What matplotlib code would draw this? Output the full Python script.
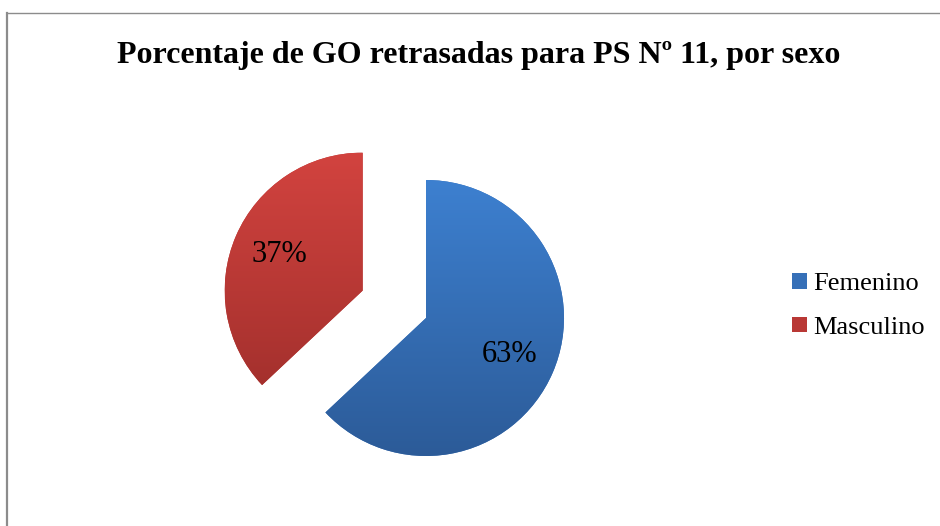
import numpy as np
import matplotlib
matplotlib.use("Agg")
import matplotlib.pyplot as plt
from matplotlib.lines import Line2D
from matplotlib.patches import Patch
from matplotlib.colors import LinearSegmentedColormap

title = "Porcentaje de GO retrasadas para PS Nº 11, por sexo"
categories = ["Femenino", "Masculino"]
values = [63, 37]
explode = [0, 0.5]
top_colors = ["#3D80D0", "#D2433F"]
bottom_colors = ["#2C5B98", "#9C2D2A"]
mid_colors = ["#3670B8", "#B93835"]

W, H = 940, 526
fig = plt.figure(figsize=(W / 100, H / 100), dpi=100)
fig.patch.set_facecolor("white")
serif = ["Liberation Serif", "DejaVu Serif"]

# outer border (left and top visible)
fig.add_artist(Line2D([7 / W, 7 / W], [0, 1 - 13 / H], color="#8c8c8c", lw=1.6))
fig.add_artist(Line2D([7 / W, 1], [1 - 13 / H, 1 - 13 / H], color="#8c8c8c", lw=1.0))

# axes with 138 px per unit, pie centre at (426, 318)
cx, cy, R = 426, 318, 138
x0, x1, ytop, ybot = 150, 700, 80, 510
ax = fig.add_axes([x0 / W, 1 - ybot / H, (x1 - x0) / W, (ybot - ytop) / H])
ax.set_xlim((x0 - cx) / R, (x1 - cx) / R)
ax.set_ylim(-(ybot - cy) / R, (cy - ytop) / R)
ax.set_aspect("auto")
ax.axis("off")

wedges, texts, autotexts = ax.pie(
    values, explode=explode, startangle=90, counterclock=False,
    colors=mid_colors, autopct="%.0f%%", pctdistance=0.66, radius=1,
    wedgeprops=dict(linewidth=0),
    textprops=dict(fontsize=22, family=serif, color="black"))

for w, tc, bc in zip(wedges, top_colors, bottom_colors):
    cmap = LinearSegmentedColormap.from_list("g", [bc, tc])
    cxw, cyw = w.center
    grad = np.linspace(0, 1, 256).reshape(-1, 1)
    im = ax.imshow(grad, cmap=cmap, origin="lower", aspect="auto",
                   extent=[cxw - 1, cxw + 1, cyw - 1, cyw + 1], zorder=w.get_zorder() + 0.1)
    im.set_clip_path(w)
for t in autotexts:
    t.set_zorder(5)

ax.set_xlim((x0 - cx) / R, (x1 - cx) / R)
ax.set_ylim(-(ybot - cy) / R, (cy - ytop) / R)

fig.text(479 / W, 1 - 55 / H, title, ha="center", va="center",
         fontsize=23, fontweight="bold", family=serif)

handles = [Patch(facecolor=c, edgecolor="none") for c in mid_colors]
fig.legend(handles, categories, loc="center left", bbox_to_anchor=(771 / W, 1 - 306 / H),
           frameon=False, prop=dict(family=serif, size=19),
           handlelength=0.55, handleheight=0.55, handletextpad=0.25, labelspacing=0.8,
           borderpad=0.3)

fig.savefig("out.png", dpi=100, facecolor="white")
